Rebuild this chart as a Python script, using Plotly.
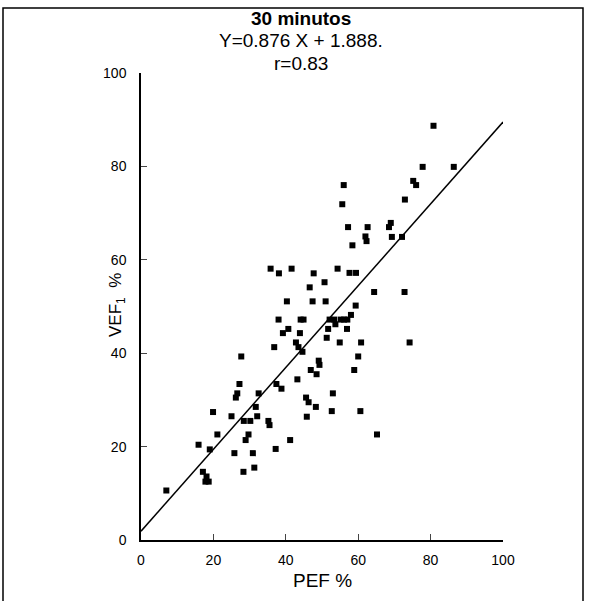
import plotly.graph_objects as go

# PEF % (x) and VEF1 % (y)
pef = [7.0, 15.9, 17.1, 18.1, 17.8, 18.7, 19.0, 19.9, 21.1, 25.0,
       25.8, 26.2, 26.6, 27.2, 27.7, 28.3, 28.4, 28.9, 29.7, 30.2,
       30.9, 31.3, 31.7, 32.1, 32.5, 35.2, 35.5, 35.8, 36.8, 37.2,
       37.4, 38.0, 38.1, 38.8, 39.2, 40.3, 40.7, 41.2, 41.6, 42.8,
       43.2, 43.5, 43.9, 44.1, 44.9, 44.6, 45.6, 45.8, 46.3, 46.6,
       46.9, 47.4, 47.7, 48.3, 48.5, 49.1, 49.3, 50.7, 51.0, 51.3,
       51.7, 52.1, 52.7, 53.0, 53.4, 53.7, 54.3, 54.9, 55.2, 55.6,
       56.0, 56.1, 57.0, 56.9, 57.2, 57.6, 58.0, 58.4, 58.9, 59.4,
       59.3, 60.0, 60.6, 60.8, 62.0, 62.3, 62.6, 64.4, 65.2, 68.5,
       69.0, 69.3, 72.1, 72.8, 72.9, 74.2, 75.2, 76.0, 77.8, 80.8,
       86.4]
vef1 = [10.6, 20.4, 14.6, 13.6, 12.5, 12.5, 19.4, 27.4, 22.6, 26.5,
        18.6, 30.5, 31.4, 33.4, 39.3, 14.6, 25.5, 21.4, 22.6, 25.5,
        18.6, 15.5, 28.5, 26.5, 31.4, 25.5, 24.6, 58.1, 41.3, 19.5,
        33.4, 47.2, 57.1, 32.4, 44.3, 51.1, 45.2, 21.4, 58.1, 42.3,
        34.4, 41.3, 44.3, 47.2, 47.2, 40.3, 30.5, 26.4, 29.5, 54.1,
        36.4, 51.1, 57.1, 28.5, 35.5, 38.4, 37.5, 55.2, 51.1, 43.3,
        45.2, 47.2, 27.6, 31.4, 47.2, 46.2, 58.1, 42.3, 47.2, 71.9,
        76.0, 47.2, 47.2, 45.2, 67.0, 57.2, 48.2, 63.1, 36.4, 57.2,
        50.2, 39.3, 27.6, 42.3, 65.0, 64.0, 67.0, 53.1, 22.6, 67.0,
        67.9, 64.9, 64.9, 53.1, 72.9, 42.3, 76.9, 76.0, 79.9, 88.7,
        79.9]

slope = 0.876
intercept = 1.888
fit_x = [0, 100]
fit_y = [intercept + slope * v for v in fit_x]

ticks = [0, 20, 40, 60, 80, 100]

W, H = 590, 601
L, R, T, B = 141, 87, 73, 61
pw, ph = W - L - R, H - T - B


def px(x):
    return (x - L) / pw


def py(y):
    return (H - B - y) / ph


fig = go.Figure()
fig.add_trace(go.Scatter(x=pef, y=vef1, mode="markers",
                         marker=dict(symbol="square", size=6, color="black"),
                         showlegend=False, cliponaxis=False))
fig.add_trace(go.Scatter(x=fit_x, y=fit_y, mode="lines",
                         line=dict(color="black", width=1.5),
                         showlegend=False))

font = "Liberation Sans, Arial, sans-serif"
fig.update_layout(
    width=W, height=H,
    margin=dict(l=L, r=R, t=T, b=B, autoexpand=False),
    paper_bgcolor="white", plot_bgcolor="white",
    font=dict(family=font, color="black", size=14),
)
fig.update_xaxes(range=[0, 100], tickvals=ticks, ticks="inside", ticklen=6,
                 showline=True, linecolor="black", linewidth=1.5,
                 showgrid=False, zeroline=False, automargin=False,
                 tickfont=dict(size=14), ticklabelstandoff=6)
fig.update_yaxes(range=[0, 100], tickvals=ticks, ticks="inside", ticklen=6,
                 showline=True, linecolor="black", linewidth=1.5,
                 showgrid=False, zeroline=False, automargin=False,
                 tickfont=dict(size=14), ticklabelstandoff=10)

# three-line heading
heading = [("<b>30 minutos</b>", 19, 18),
           ("Y=0.876 X + 1.888.", 19, 41),
           ("r=0.83", 19, 63)]
for text, size, y in heading:
    fig.add_annotation(text=text, x=px(301), y=py(y),
                       xref="paper", yref="paper", showarrow=False,
                       font=dict(size=size), xanchor="center", yanchor="middle")

# axis titles
fig.add_annotation(text="PEF %", x=px(322), y=py(580), xref="paper", yref="paper",
                   showarrow=False, font=dict(size=19),
                   xanchor="center", yanchor="middle")
fig.add_annotation(text="VEF<sub>1</sub>  %", x=px(117), y=py(305),
                   xref="paper", yref="paper", showarrow=False, textangle=-90,
                   font=dict(size=17), xanchor="center", yanchor="middle")

# outer frame
fig.add_shape(type="rect", xref="paper", yref="paper",
              x0=px(3), x1=px(583), y0=py(610), y1=py(8),
              line=dict(color="black", width=1.5))

fig.write_html("out.html", config={"displayModeBar": False},
               post_script="document.body.style.margin='0';")
